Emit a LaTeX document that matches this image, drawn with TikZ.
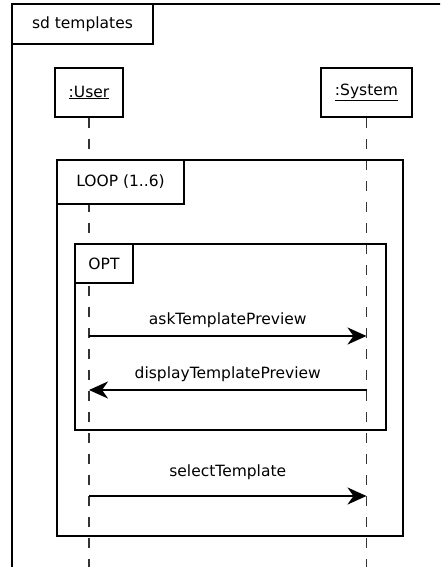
\documentclass[tikz,border=0pt]{standalone}
\usepackage{fontspec}
\setmainfont{DejaVu Sans}
\usepackage{tikz}
\usetikzlibrary{arrows.meta}

\begin{document}
\begin{tikzpicture}
[x=1pt, y=-1pt,
font=\fontsize{15.5}{18}\selectfont,
frame/.style={black, line width = 2.7pt, line join = miter},
tab/.style={draw, black, fill = white, line width = 2.7pt, outer sep = 0pt, inner sep = 0pt, anchor = north west},
lifebox/.style={draw, black, line width = 2.7pt, fill = white, inner sep = 0pt},
lifeline/.style={black!80, line width = 1.5pt, dash pattern = on 10pt off 11pt},
msg/.style={black, line width = 2.5pt, -{Stealth[length=19pt, width=17pt, inset=6pt]}},
msglabel/.style={above = 5pt, inner sep = 2pt}]
\useasboundingbox (0,0) rectangle (440,567);
\clip (0,0) rectangle (440,567);
\fill[white] (0,0) rectangle (440,567);
\draw[frame] (12,4) rectangle (460,590);
\node[tab, minimum width = 141pt, minimum height = 40pt] (sdtab) at (12,4) {sd templates};
\node[lifebox, minimum width = 68pt, minimum height = 49pt] (user) at (89,92.5) {\underline{:User}};
\node[lifebox, minimum width = 91pt, minimum height = 49pt] (system) at (366.5,92.5) {\underline{:System}};
\coordinate (userend) at (user.south |- 0,570);
\coordinate (systemend) at (system.south |- 0,570);
\draw[lifeline] (user.south) -- (userend);
\draw[lifeline] (system.south) -- (systemend);
\draw[frame] (57,160) rectangle (403,536);
\node[tab, minimum width = 127pt, minimum height = 44pt] (looptab) at (57,160) {LOOP (1..6)};
\draw[frame] (75,244) rectangle (386,430);
\node[tab, minimum width = 58pt, minimum height = 39pt] (opttab) at (75,244) {OPT};
\coordinate (askfrom) at (user.south |- 0,336);
\coordinate (askto) at (system.south |- 0,336);
\coordinate (displayfrom) at (system.south |- 0,390);
\coordinate (displayto) at (user.south |- 0,390);
\coordinate (selectfrom) at (user.south |- 0,496);
\coordinate (selectto) at (system.south |- 0,496);
\draw[msg] (askfrom) -- node[msglabel] {askTemplatePreview} (askto);
\draw[msg] (displayfrom) -- node[msglabel] {displayTemplatePreview} (displayto);
\draw[msg] (selectfrom) -- node[msglabel, above = 8pt] {selectTemplate} (selectto);
\end{tikzpicture}
\end{document}
